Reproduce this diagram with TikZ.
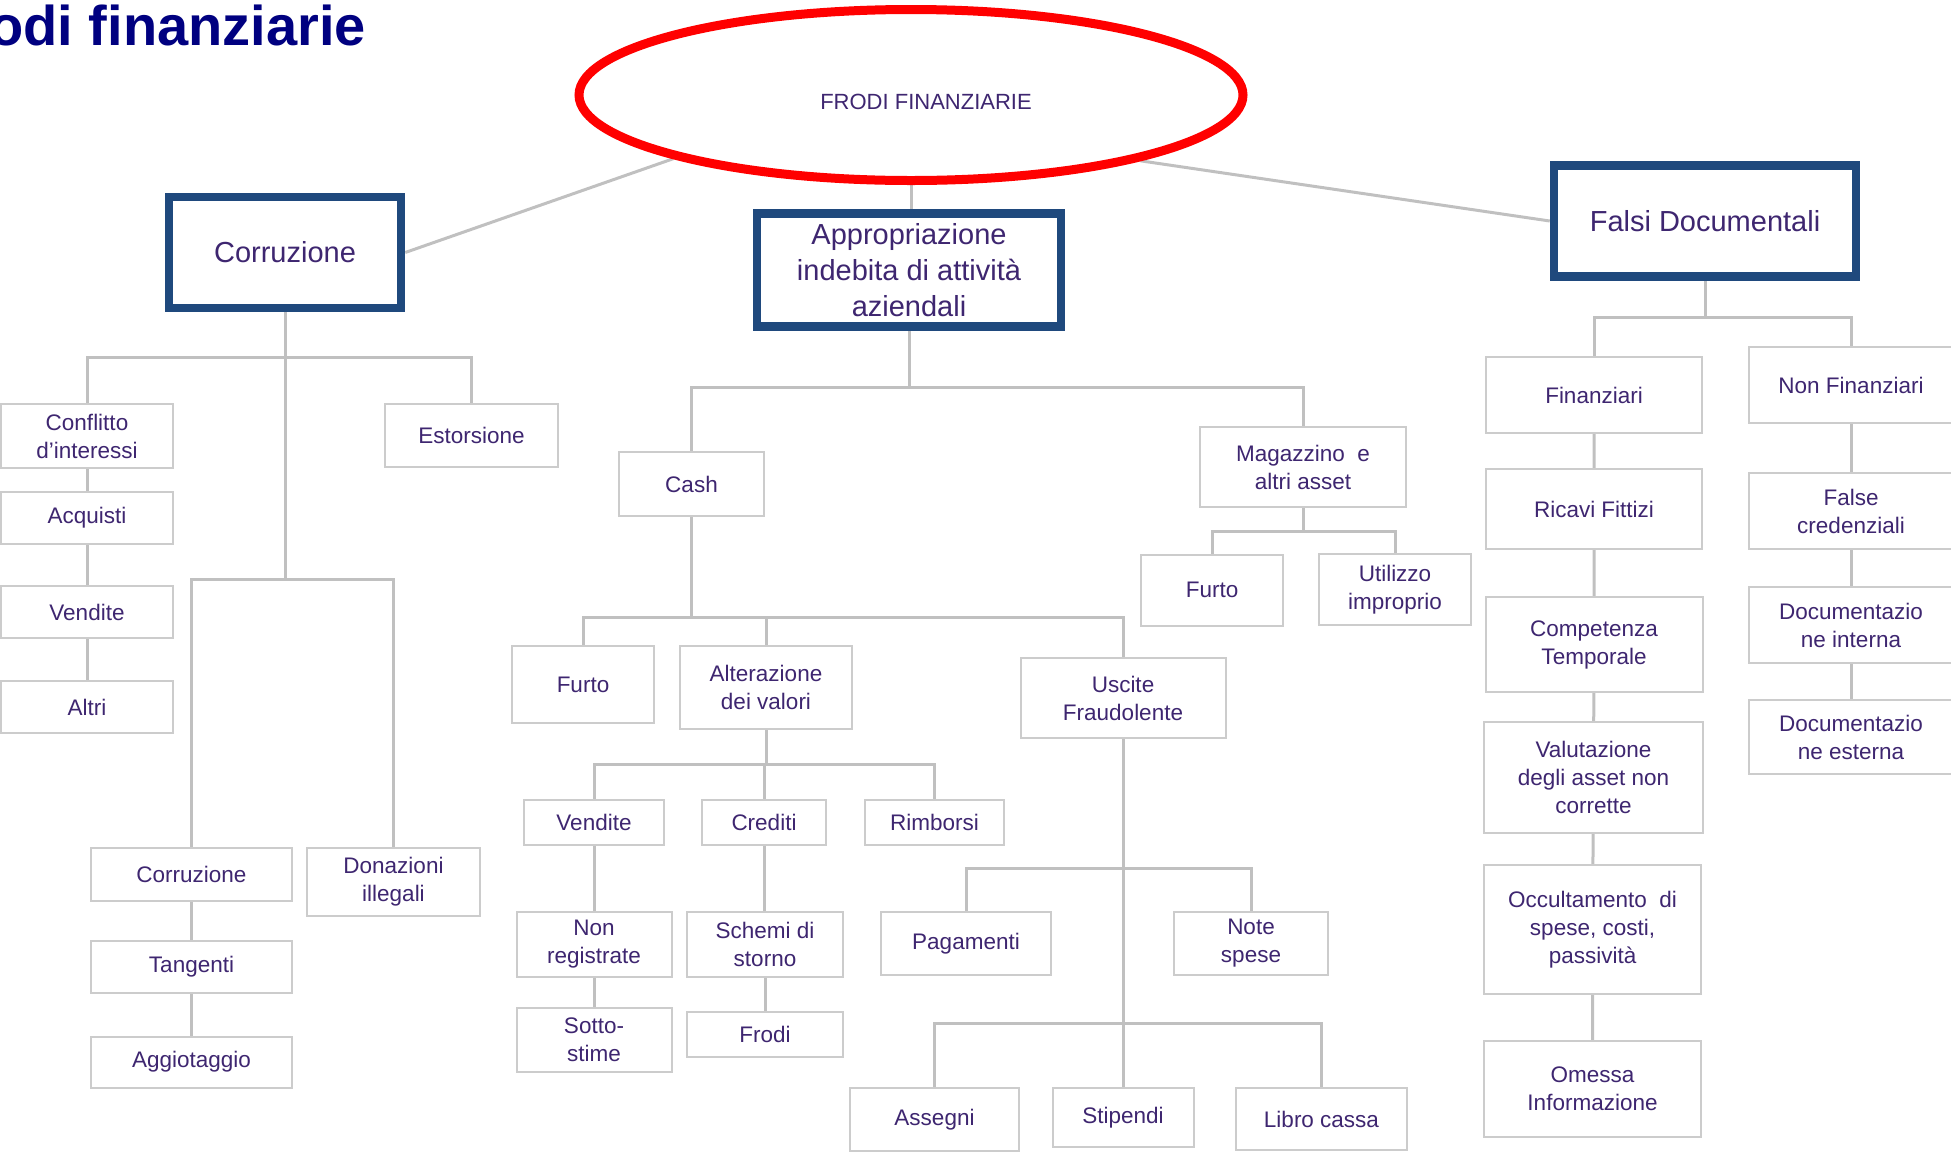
\documentclass[tikz,border=0pt]{standalone}
\usepackage{fontspec}
\setmainfont{Liberation Sans}
\usetikzlibrary{shapes.geometric,backgrounds}

\definecolor{txt}{RGB}{62,38,112}
\definecolor{navytitle}{RGB}{0,0,128}
\definecolor{framegrey}{RGB}{204,204,204}
\definecolor{linkgrey}{RGB}{192,192,192}
\definecolor{mainblue}{RGB}{31,73,125}
\definecolor{ovalred}{RGB}{255,0,0}

\tikzset{
  leaf/.style={draw=framegrey, line width=2pt, fill=white, text=txt,
    font=\fontsize{22.5}{28}\selectfont, align=center, inner sep=0pt},
  topic/.style={draw=mainblue, line width=8.5pt, fill=white, text=txt,
    font=\fontsize{29}{36}\selectfont, align=center, inner sep=0pt},
  sz/.style 2 args={minimum width=#1pt, minimum height=#2pt},
  conn/.style={draw=linkgrey, line width=3pt},
}

\begin{document}
\begin{tikzpicture}[x=1pt, y=-1pt]
\useasboundingbox (0,0) rectangle (1951,1152);

% title
\node[anchor=base east, inner sep=0pt, text=navytitle,
      font=\fontsize{56}{60}\selectfont\bfseries] (title) at (366,45) {odi finanziarie};

% root oval and its caption
\node[ellipse, draw=ovalred, line width=9pt, fill=white, inner sep=0pt,
      minimum width=664pt, minimum height=171pt] (frodi) at (911,95) {};
\node[text=txt, inner sep=0pt, font=\fontsize{22}{26}\selectfont] (frodiT) at (926,102) {FRODI FINANZIARIE};

% main branches
\node[topic, sz={232}{111}] (corrM) at (285,252.5) {Corruzione};
\node[topic, sz={304}{113}] (app) at (909,270) {Appropriazione\\indebita di attività\\aziendali};
\node[topic, sz={302}{111}] (falsi) at (1705,221) {Falsi Documentali};

% Corruzione branch
\node[leaf, sz={172}{64}] (confl) at (87,436) {Conflitto\\d’interessi};
\node[leaf, sz={172}{52}] (acq) at (87,518) {Acquisti};
\node[leaf, sz={172}{52}] (vend) at (87,612) {Vendite};
\node[leaf, sz={172}{52}] (altri) at (87,707) {Altri};
\node[leaf, sz={173}{63}] (estor) at (471.5,435.5) {Estorsione};
\node[leaf, sz={201}{53}] (corrS) at (191.5,874) {Corruzione};
\node[leaf, sz={201}{52}] (tang) at (191.5,967) {Tangenti};
\node[leaf, sz={201}{51}] (aggio) at (191.5,1062) {Aggiotaggio};
\node[leaf, sz={173}{68}] (donaz) at (393.5,882) {Donazioni\\illegali};

% Appropriazione branch
\node[leaf, sz={145}{64}] (cash) at (691.5,484) {Cash};
\node[leaf, sz={142}{77}] (furtoA) at (583,684.5) {Furto};
\node[leaf, sz={172}{83}] (alter) at (766,687.5) {Alterazione\\dei valori};
\node[leaf, sz={205}{80}] (uscite) at (1123,698) {Uscite\\Fraudolente};
\node[leaf, sz={206}{80}] (mag) at (1303,467) {Magazzino~ e\\altri asset};
\node[leaf, sz={142}{71}] (furtoB) at (1212,590) {Furto};
\node[leaf, sz={152}{71}] (util) at (1395,589.5) {Utilizzo\\improprio};
\node[leaf, sz={140}{45}] (vendB) at (594,822.5) {Vendite};
\node[leaf, sz={124}{45}] (cred) at (764,822.5) {Crediti};
\node[leaf, sz={139}{45}] (rimb) at (934.5,822.5) {Rimborsi};
\node[leaf, sz={155}{65}] (nonreg) at (594,944.5) {Non\\registrate};
\node[leaf, sz={156}{65}] (schemi) at (765,944.5) {Schemi di\\storno};
\node[leaf, sz={155}{64}] (sotto) at (594,1040) {Sotto-\\stime};
\node[leaf, sz={156}{45}] (frodiB) at (765,1034.5) {Frodi};
\node[leaf, sz={170}{63}] (pag) at (966,943.5) {Pagamenti};
\node[leaf, sz={154}{63}] (note) at (1251,943.5) {Note\\spese};
\node[leaf, sz={169}{63}] (assegni) at (934.5,1119.5) {Assegni};
\node[leaf, sz={141}{59}] (stip) at (1123,1117.5) {Stipendi};
\node[leaf, sz={171}{62}] (libro) at (1321.5,1119) {Libro cassa};

% Falsi Documentali branch
\node[leaf, sz={216}{76}] (fin) at (1594,395) {Finanziari};
\node[leaf, sz={204}{76}] (nonfin) at (1851,385) {Non Finanziari};
\node[leaf, sz={216}{80}] (ricavi) at (1594,509) {Ricavi Fittizi};
\node[leaf, sz={217}{95}] (compet) at (1594,644.5) {Competenza\\Temporale};
\node[leaf, sz={219}{111}] (valut) at (1593.5,777.5) {Valutazione\\degli asset non\\corrette};
\node[leaf, sz={217}{129}] (occult) at (1592.5,929.5) {Occultamento~ di\\spese, costi,\\passività};
\node[leaf, sz={217}{96}] (omessa) at (1592.5,1089) {Omessa\\Informazione};
\node[leaf, sz={204}{76}] (falsecred) at (1851,511) {False\\credenziali};
\node[leaf, sz={204}{76}] (docint) at (1851,625) {Documentazio\\ne interna};
\node[leaf, sz={204}{74}] (docest) at (1851,737) {Documentazio\\ne esterna};

% levels of the horizontal bars
\coordinate (bA) at (0,357);
\coordinate (bB) at (0,579);
\coordinate (bC) at (0,387);
\coordinate (bD) at (0,617);
\coordinate (bE) at (0,531);
\coordinate (bF) at (0,764);
\coordinate (bG) at (0,868);
\coordinate (bH) at (0,1023);
\coordinate (bI) at (0,317);

\begin{scope}[on background layer]
  % root links
  \draw[conn] (corrM.east) -- (frodi.195);
  \draw[conn] (falsi.west) -- (frodi.-16);
  \draw[conn] (frodi.south) -- (frodi.south |- app.north);

  % Corruzione
  \draw[conn] (corrM.south) -- (corrM.south |- bB);
  \draw[conn] (confl.north) |- (corrM.south |- bA) -| (estor.north);
  \draw[conn] (corrS.north) |- (corrM.south |- bB) -| (donaz.north);
  \draw[conn] (confl) -- (acq) -- (vend) -- (altri);
  \draw[conn] (corrS) -- (tang) -- (aggio);

  % Appropriazione
  \draw[conn] (app.south) -- (app.south |- bC);
  \draw[conn] (cash.north) |- (app.south |- bC) -| (mag.north);
  \draw[conn] (cash.south) -- (cash.south |- bD);
  \draw[conn] (furtoA.north) |- (cash.south |- bD) -| (uscite.north);
  \draw[conn] (cash.south |- bD) -| (alter.north);
  \draw[conn] (mag.south) -- (mag.south |- bE);
  \draw[conn] (furtoB.north) |- (mag.south |- bE) -| (util.north);
  \draw[conn] (alter.south) -- (alter.south |- bF);
  \draw[conn] (vendB.north) |- (alter.south |- bF) -| (rimb.north);
  \draw[conn] (alter.south |- bF) -| (cred.north);
  \draw[conn] (vendB) -- (nonreg) -- (sotto);
  \draw[conn] (cred.south) -- (cred.south |- schemi.north);
  \draw[conn] (schemi) -- (frodiB);
  \draw[conn] (uscite.south) -- (stip.north);
  \draw[conn] (pag.north) |- (uscite.south |- bG) -| (note.north);
  \draw[conn] (assegni.north) |- (uscite.south |- bH) -| (libro.north);

  % Falsi Documentali
  \draw[conn] (falsi.south) -- (falsi.south |- bI);
  \draw[conn] (fin.north) |- (falsi.south |- bI) -| (nonfin.north);
  \draw[conn] (fin) -- (ricavi) -- (compet) -- (valut) -- (occult) -- (omessa);
  \draw[conn] (nonfin) -- (falsecred) -- (docint) -- (docest);
\end{scope}
\end{tikzpicture}
\end{document}
